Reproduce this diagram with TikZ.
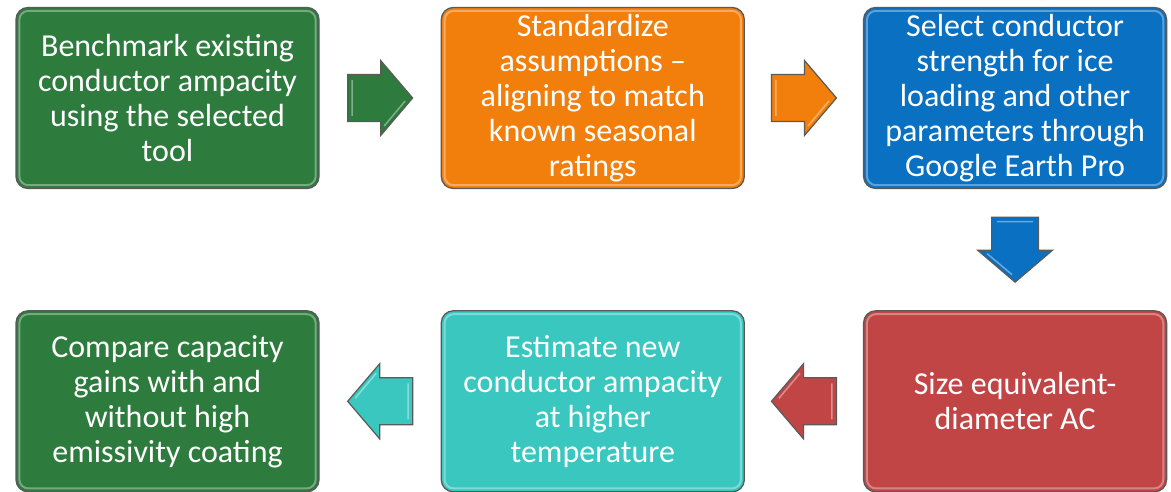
\documentclass[tikz,border=0pt]{standalone}
\usepackage{fontspec}
\setmainfont{Carlito}
\usetikzlibrary{positioning,calc}

\definecolor{stepgreen}{HTML}{2D7B3D}
\definecolor{steporange}{HTML}{F27E0C}
\definecolor{stepblue}{HTML}{0A70C2}
\definecolor{stepred}{HTML}{C14545}
\definecolor{stepteal}{HTML}{3AC7C0}
\definecolor{edgegray}{HTML}{5A5A5A}

\begin{document}
\begin{tikzpicture}[x=1pt,y=-1pt,
  stepbox/.style={draw=edgegray,line width=1.3pt,rounded corners=12pt,
    minimum width=303pt,minimum height=181pt,text=white,align=center,
    font=\fontsize{32}{35}\selectfont},
  hilite/.style={draw=white,opacity=0.35,line width=2pt,rounded corners=9pt},
  pics/blockarrow/.style={code={
    \draw[pic actions,draw=edgegray,line width=1.2pt]
      (-32.5,-23.5) -- (0.5,-23.5) -- (0.5,-37.5) -- (32.5,0) -- (0.5,37.5)
      -- (0.5,23.5) -- (-32.5,23.5) -- cycle;
    \draw[white,opacity=0.4,line width=1.5pt]
      (-28,-18) -- (-28,18) (4,28) -- (25,3);}}]
\useasboundingbox (0,0) rectangle (1171,492);

% top row
\node[stepbox,fill=stepgreen] (bench) at (167.5,98)
  {Benchmark existing\\conductor ampacity\\using the selected\\tool};
\node[stepbox,fill=steporange,right=121pt of bench] (assume)
  {Standardize\\assumptions --\\aligning to match\\known seasonal\\ratings};
\node[stepbox,fill=stepblue,right=118pt of assume] (select)
  {Select conductor\\strength for ice\\loading and other\\parameters through\\Google Earth Pro};

% bottom row
\node[stepbox,fill=stepred,below=121pt of select] (size)
  {Size equivalent-\\diameter AC};
\node[stepbox,fill=stepteal,left=118pt of size] (estimate)
  {Estimate new\\conductor ampacity\\at higher\\temperature};
\node[stepbox,fill=stepgreen,left=121pt of estimate] (compare)
  {Compare capacity\\gains with and\\without high\\emissivity coating};

% bevel highlights
\foreach \n in {bench,assume,select,size,estimate,compare}
  \draw[hilite] ([shift={(4,4)}]\n.north west) rectangle ([shift={(-4,-4)}]\n.south east);

% block arrows
\pic[fill=stepgreen] (arr1) at ($(bench.east)!0.5!(assume.west)$) {blockarrow};
\pic[fill=steporange] (arr2) at ($(assume.east)!0.5!(select.west)$) {blockarrow};
\pic[fill=stepblue,rotate=270] (arr3) at ($(select.south)!0.5!(size.north)$) {blockarrow};
\pic[fill=stepred,rotate=180] (arr4) at ($(size.west)!0.5!(estimate.east)$) {blockarrow};
\pic[fill=stepteal,rotate=180] (arr5) at ($(estimate.west)!0.5!(compare.east)$) {blockarrow};
\end{tikzpicture}
\end{document}
